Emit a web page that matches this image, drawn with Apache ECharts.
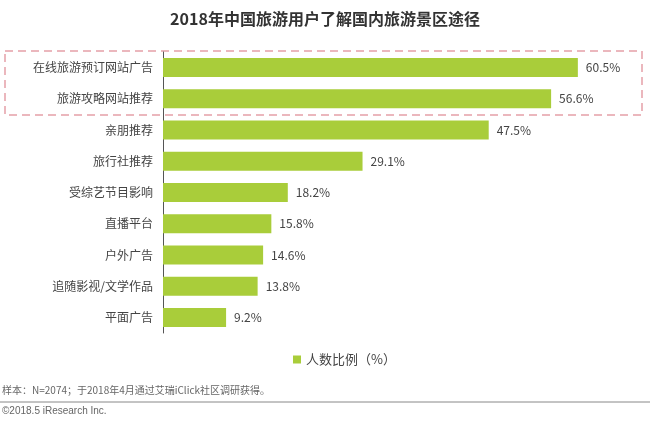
<!DOCTYPE html>
<html>
<head>
<meta charset="utf-8">
<script src="https://cdn.jsdelivr.net/npm/echarts@6/dist/echarts.min.js"></script>
<style>
html,body{margin:0;padding:0;background:#fff;}
#main{width:650px;height:426px;}
</style>
</head>
<body>
<div id="main"></div>
<script>
// 数据
var categories = ['在线旅游预订网站广告','旅游攻略网站推荐','亲朋推荐','旅行社推荐','受综艺节目影响','直播平台','户外广告','追随影视/文学作品','平面广告'];
var values = [60.5, 56.6, 47.5, 29.1, 18.2, 15.8, 14.6, 13.8, 9.2];
var seriesName = '人数比例（%）';

var FONT = '"Noto Sans CJK SC", sans-serif';
var myChart = echarts.init(document.getElementById('main'));
var option = {
    backgroundColor: '#fff',
    animation: false,
    title: {
        text: '2018年中国旅游用户了解国内旅游景区途径',
        left: 'center', top: 6,
        textStyle: {fontFamily: FONT, fontSize: 16, fontWeight: 'bold', color: '#333'}
    },
    legend: {
        data: [seriesName],
        top: 348, left: 288,
        itemWidth: 8, itemHeight: 8, icon: 'rect',
        textStyle: {fontFamily: FONT, fontSize: 13, color: '#444'}
    },
    grid: {left: 163, right: 7, top: 52, bottom: 93},
    xAxis: {type: 'value', min: 0, max: 70, show: false},
    yAxis: {
        type: 'category', inverse: true, data: categories,
        axisLine: {lineStyle: {color: '#555'}},
        axisTick: {show: false},
        axisLabel: {fontFamily: FONT, fontSize: 12, color: '#444', margin: 10}
    },
    series: [{
        name: seriesName, type: 'bar', data: values, barWidth: 19,
        itemStyle: {color: '#a9cd3a'},
        label: {show: true, position: 'right', formatter: '{c}%', fontFamily: FONT, fontSize: 12, color: '#444', distance: 8}
    }],
    graphic: [
        {type: 'rect', shape: {x: 5, y: 51, width: 637, height: 64},
         style: {fill: 'none', stroke: '#e5a0a8', lineWidth: 1.5, lineDash: [8, 5]}},
        {type: 'text', left: 2, top: 385,
         style: {text: '样本：N=2074；于2018年4月通过艾瑞iClick社区调研获得。', font: '10px ' + FONT, fill: '#666'}},
        {type: 'line', shape: {x1: 0, y1: 402, x2: 650, y2: 402}, style: {stroke: '#888', lineWidth: 1}},
        {type: 'text', left: 2, top: 406,
         style: {text: '©2018.5 iResearch Inc.', font: '10px Arial, sans-serif', fill: '#666'}}
    ]
};
myChart.setOption(option);
</script>
</body>
</html>
